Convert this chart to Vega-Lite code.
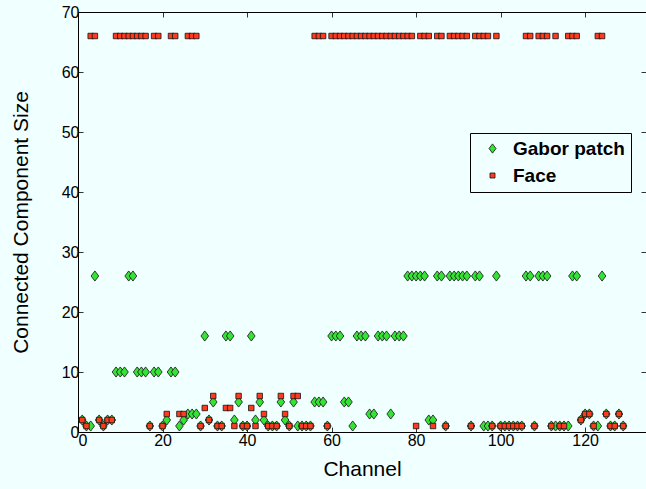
{
  "$schema": "https://vega.github.io/schema/vega-lite/v6.json",
  "width": 568,
  "height": 420,
  "autosize": {"type": "none"},
  "padding": {"left": 78, "top": 12, "right": 0, "bottom": 57},
  "background": "#F0FFFF",
  "config": {
    "view": {"stroke": "black", "strokeWidth": 1, "fill": "#F0FFFF"},
    "font": "Liberation Sans",
    "axis": {"grid": false, "domain": false, "tickColor": "black", "tickWidth": 0.8, "tickSize": -5, "labelColor": "black", "titleColor": "black", "labelFontSize": 16, "titleFontSize": 21, "titleFontWeight": "normal", "labelFont": "Liberation Sans", "titleFont": "Liberation Sans"},
    "legend": {"orient": "none", "legendX": 392, "legendY": 121, "strokeColor": "black", "fillColor": "#F0FFFF", "padding": 6, "labelFontSize": 19, "labelFontWeight": "bold", "labelFont": "Liberation Sans", "labelColor": "black", "rowPadding": 7, "symbolOffset": 7, "labelOffset": 11, "symbolStrokeColor": "#111111", "symbolStrokeWidth": 0.8, "symbolSize": 25}
  },
  "data": {
    "values": [
      {"c":1,"s":"Gabor patch","v":2},{"c":2,"s":"Gabor patch","v":1},{"c":3,"s":"Gabor patch","v":1},{"c":4,"s":"Gabor patch","v":26},{"c":5,"s":"Gabor patch","v":2},{"c":6,"s":"Gabor patch","v":1},{"c":7,"s":"Gabor patch","v":2},{"c":8,"s":"Gabor patch","v":2},{"c":9,"s":"Gabor patch","v":10},{"c":10,"s":"Gabor patch","v":10},
      {"c":11,"s":"Gabor patch","v":10},{"c":12,"s":"Gabor patch","v":26},{"c":13,"s":"Gabor patch","v":26},{"c":14,"s":"Gabor patch","v":10},{"c":15,"s":"Gabor patch","v":10},{"c":16,"s":"Gabor patch","v":10},{"c":17,"s":"Gabor patch","v":1},{"c":18,"s":"Gabor patch","v":10},{"c":19,"s":"Gabor patch","v":10},{"c":20,"s":"Gabor patch","v":1},
      {"c":21,"s":"Gabor patch","v":2},{"c":22,"s":"Gabor patch","v":10},{"c":23,"s":"Gabor patch","v":10},{"c":24,"s":"Gabor patch","v":1},{"c":25,"s":"Gabor patch","v":2},{"c":26,"s":"Gabor patch","v":3},{"c":27,"s":"Gabor patch","v":3},{"c":28,"s":"Gabor patch","v":3},{"c":29,"s":"Gabor patch","v":1},{"c":30,"s":"Gabor patch","v":16},
      {"c":31,"s":"Gabor patch","v":2},{"c":32,"s":"Gabor patch","v":5},{"c":33,"s":"Gabor patch","v":1},{"c":34,"s":"Gabor patch","v":1},{"c":35,"s":"Gabor patch","v":16},{"c":36,"s":"Gabor patch","v":16},{"c":37,"s":"Gabor patch","v":2},{"c":38,"s":"Gabor patch","v":5},{"c":39,"s":"Gabor patch","v":1},{"c":40,"s":"Gabor patch","v":1},
      {"c":41,"s":"Gabor patch","v":16},{"c":42,"s":"Gabor patch","v":2},{"c":43,"s":"Gabor patch","v":5},{"c":44,"s":"Gabor patch","v":2},{"c":45,"s":"Gabor patch","v":1},{"c":46,"s":"Gabor patch","v":1},{"c":47,"s":"Gabor patch","v":1},{"c":48,"s":"Gabor patch","v":5},{"c":49,"s":"Gabor patch","v":2},{"c":50,"s":"Gabor patch","v":1},
      {"c":51,"s":"Gabor patch","v":5},{"c":52,"s":"Gabor patch","v":1},{"c":53,"s":"Gabor patch","v":1},{"c":54,"s":"Gabor patch","v":1},{"c":55,"s":"Gabor patch","v":1},{"c":56,"s":"Gabor patch","v":5},{"c":57,"s":"Gabor patch","v":5},{"c":58,"s":"Gabor patch","v":5},{"c":59,"s":"Gabor patch","v":1},{"c":60,"s":"Gabor patch","v":16},
      {"c":61,"s":"Gabor patch","v":16},{"c":62,"s":"Gabor patch","v":16},{"c":63,"s":"Gabor patch","v":5},{"c":64,"s":"Gabor patch","v":5},{"c":65,"s":"Gabor patch","v":1},{"c":66,"s":"Gabor patch","v":16},{"c":67,"s":"Gabor patch","v":16},{"c":68,"s":"Gabor patch","v":16},{"c":69,"s":"Gabor patch","v":3},{"c":70,"s":"Gabor patch","v":3},
      {"c":71,"s":"Gabor patch","v":16},{"c":72,"s":"Gabor patch","v":16},{"c":73,"s":"Gabor patch","v":16},{"c":74,"s":"Gabor patch","v":3},{"c":75,"s":"Gabor patch","v":16},{"c":76,"s":"Gabor patch","v":16},{"c":77,"s":"Gabor patch","v":16},{"c":78,"s":"Gabor patch","v":26},{"c":79,"s":"Gabor patch","v":26},{"c":80,"s":"Gabor patch","v":26},
      {"c":81,"s":"Gabor patch","v":26},{"c":82,"s":"Gabor patch","v":26},{"c":83,"s":"Gabor patch","v":2},{"c":84,"s":"Gabor patch","v":2},{"c":85,"s":"Gabor patch","v":26},{"c":86,"s":"Gabor patch","v":26},{"c":87,"s":"Gabor patch","v":1},{"c":88,"s":"Gabor patch","v":26},{"c":89,"s":"Gabor patch","v":26},{"c":90,"s":"Gabor patch","v":26},
      {"c":91,"s":"Gabor patch","v":26},{"c":92,"s":"Gabor patch","v":26},{"c":93,"s":"Gabor patch","v":1},{"c":94,"s":"Gabor patch","v":26},{"c":95,"s":"Gabor patch","v":26},{"c":96,"s":"Gabor patch","v":1},{"c":97,"s":"Gabor patch","v":1},{"c":98,"s":"Gabor patch","v":1},{"c":99,"s":"Gabor patch","v":26},{"c":100,"s":"Gabor patch","v":1},
      {"c":101,"s":"Gabor patch","v":1},{"c":102,"s":"Gabor patch","v":1},{"c":103,"s":"Gabor patch","v":1},{"c":104,"s":"Gabor patch","v":1},{"c":105,"s":"Gabor patch","v":1},{"c":106,"s":"Gabor patch","v":26},{"c":107,"s":"Gabor patch","v":26},{"c":108,"s":"Gabor patch","v":1},{"c":109,"s":"Gabor patch","v":26},{"c":110,"s":"Gabor patch","v":26},
      {"c":111,"s":"Gabor patch","v":26},{"c":112,"s":"Gabor patch","v":1},{"c":113,"s":"Gabor patch","v":1},{"c":114,"s":"Gabor patch","v":1},{"c":115,"s":"Gabor patch","v":1},{"c":116,"s":"Gabor patch","v":1},{"c":117,"s":"Gabor patch","v":26},{"c":118,"s":"Gabor patch","v":26},{"c":119,"s":"Gabor patch","v":2},{"c":120,"s":"Gabor patch","v":3},
      {"c":121,"s":"Gabor patch","v":3},{"c":122,"s":"Gabor patch","v":1},{"c":123,"s":"Gabor patch","v":1},{"c":124,"s":"Gabor patch","v":26},{"c":125,"s":"Gabor patch","v":3},{"c":126,"s":"Gabor patch","v":1},{"c":127,"s":"Gabor patch","v":1},{"c":128,"s":"Gabor patch","v":3},{"c":129,"s":"Gabor patch","v":1},
      {"c":1,"s":"Face","v":2},{"c":2,"s":"Face","v":1},{"c":3,"s":"Face","v":66},{"c":4,"s":"Face","v":66},{"c":5,"s":"Face","v":2},{"c":6,"s":"Face","v":1},{"c":7,"s":"Face","v":2},{"c":8,"s":"Face","v":2},{"c":9,"s":"Face","v":66},{"c":10,"s":"Face","v":66},
      {"c":11,"s":"Face","v":66},{"c":12,"s":"Face","v":66},{"c":13,"s":"Face","v":66},{"c":14,"s":"Face","v":66},{"c":15,"s":"Face","v":66},{"c":16,"s":"Face","v":66},{"c":17,"s":"Face","v":1},{"c":18,"s":"Face","v":66},{"c":19,"s":"Face","v":66},{"c":20,"s":"Face","v":1},
      {"c":21,"s":"Face","v":3},{"c":22,"s":"Face","v":66},{"c":23,"s":"Face","v":66},{"c":24,"s":"Face","v":3},{"c":25,"s":"Face","v":3},{"c":26,"s":"Face","v":66},{"c":27,"s":"Face","v":66},{"c":28,"s":"Face","v":66},{"c":29,"s":"Face","v":1},{"c":30,"s":"Face","v":4},
      {"c":31,"s":"Face","v":2},{"c":32,"s":"Face","v":6},{"c":33,"s":"Face","v":1},{"c":34,"s":"Face","v":1},{"c":35,"s":"Face","v":4},{"c":36,"s":"Face","v":4},{"c":37,"s":"Face","v":1},{"c":38,"s":"Face","v":6},{"c":39,"s":"Face","v":1},{"c":40,"s":"Face","v":1},
      {"c":41,"s":"Face","v":4},{"c":42,"s":"Face","v":1},{"c":43,"s":"Face","v":6},{"c":44,"s":"Face","v":3},{"c":45,"s":"Face","v":1},{"c":46,"s":"Face","v":1},{"c":47,"s":"Face","v":1},{"c":48,"s":"Face","v":6},{"c":49,"s":"Face","v":3},{"c":50,"s":"Face","v":1},
      {"c":51,"s":"Face","v":6},{"c":52,"s":"Face","v":6},{"c":53,"s":"Face","v":1},{"c":54,"s":"Face","v":1},{"c":55,"s":"Face","v":1},{"c":56,"s":"Face","v":66},{"c":57,"s":"Face","v":66},{"c":58,"s":"Face","v":66},{"c":59,"s":"Face","v":1},{"c":60,"s":"Face","v":66},
      {"c":61,"s":"Face","v":66},{"c":62,"s":"Face","v":66},{"c":63,"s":"Face","v":66},{"c":64,"s":"Face","v":66},{"c":65,"s":"Face","v":66},{"c":66,"s":"Face","v":66},{"c":67,"s":"Face","v":66},{"c":68,"s":"Face","v":66},{"c":69,"s":"Face","v":66},{"c":70,"s":"Face","v":66},
      {"c":71,"s":"Face","v":66},{"c":72,"s":"Face","v":66},{"c":73,"s":"Face","v":66},{"c":74,"s":"Face","v":66},{"c":75,"s":"Face","v":66},{"c":76,"s":"Face","v":66},{"c":77,"s":"Face","v":66},{"c":78,"s":"Face","v":66},{"c":79,"s":"Face","v":66},{"c":80,"s":"Face","v":1},
      {"c":81,"s":"Face","v":66},{"c":82,"s":"Face","v":66},{"c":83,"s":"Face","v":66},{"c":84,"s":"Face","v":1},{"c":85,"s":"Face","v":66},{"c":86,"s":"Face","v":66},{"c":87,"s":"Face","v":1},{"c":88,"s":"Face","v":66},{"c":89,"s":"Face","v":66},{"c":90,"s":"Face","v":66},
      {"c":91,"s":"Face","v":66},{"c":92,"s":"Face","v":66},{"c":93,"s":"Face","v":1},{"c":94,"s":"Face","v":66},{"c":95,"s":"Face","v":66},{"c":96,"s":"Face","v":66},{"c":97,"s":"Face","v":66},{"c":98,"s":"Face","v":1},{"c":99,"s":"Face","v":66},{"c":100,"s":"Face","v":1},
      {"c":101,"s":"Face","v":1},{"c":102,"s":"Face","v":1},{"c":103,"s":"Face","v":1},{"c":104,"s":"Face","v":1},{"c":105,"s":"Face","v":1},{"c":106,"s":"Face","v":66},{"c":107,"s":"Face","v":66},{"c":108,"s":"Face","v":1},{"c":109,"s":"Face","v":66},{"c":110,"s":"Face","v":66},
      {"c":111,"s":"Face","v":66},{"c":112,"s":"Face","v":1},{"c":113,"s":"Face","v":66},{"c":114,"s":"Face","v":1},{"c":115,"s":"Face","v":1},{"c":116,"s":"Face","v":66},{"c":117,"s":"Face","v":66},{"c":118,"s":"Face","v":66},{"c":119,"s":"Face","v":2},{"c":120,"s":"Face","v":3},
      {"c":121,"s":"Face","v":3},{"c":122,"s":"Face","v":1},{"c":123,"s":"Face","v":66},{"c":124,"s":"Face","v":66},{"c":125,"s":"Face","v":3},{"c":126,"s":"Face","v":1},{"c":127,"s":"Face","v":1},{"c":128,"s":"Face","v":3},{"c":129,"s":"Face","v":1}
    ]
  },
  "layer": [
    {
      "mark": {"type": "point", "filled": true, "opacity": 1, "stroke": "#111111", "strokeWidth": 0.8, "size": 30},
      "encoding": {
        "x": {"field": "c", "type": "quantitative", "scale": {"domain": [0, 134.4], "nice": false, "zero": false}, "axis": {"orient": "bottom", "values": [0, 20, 40, 60, 80, 100, 120], "title": "Channel", "labelPadding": 5, "titlePadding": 10}},
        "y": {"field": "v", "type": "quantitative", "scale": {"domain": [0, 70], "nice": false}, "axis": {"orient": "left", "values": [0, 10, 20, 30, 40, 50, 60, 70], "title": "Connected Component Size", "labelPadding": 4, "titlePadding": 30}},
        "color": {"field": "s", "type": "nominal", "scale": {"domain": ["Gabor patch", "Face"], "range": ["#35E335", "#FF3A1E"]}, "legend": {"title": null}},
        "shape": {"field": "s", "type": "nominal", "scale": {"domain": ["Gabor patch", "Face"], "range": ["M0,-1.85L1.4,0L0,1.85L-1.4,0Z", "square"]}, "legend": {"title": null}}
      }
    },
    {
      "mark": {"type": "point", "opacity": 0},
      "encoding": {
        "x": {"field": "c", "type": "quantitative", "axis": {"orient": "top", "values": [0, 20, 40, 60, 80, 100, 120], "labels": false, "title": null}},
        "y": {"field": "v", "type": "quantitative", "axis": {"orient": "right", "values": [0, 10, 20, 30, 40, 50, 60, 70], "labels": false, "title": null}}
      }
    }
  ],
  "resolve": {"axis": {"x": "independent", "y": "independent"}}
}
